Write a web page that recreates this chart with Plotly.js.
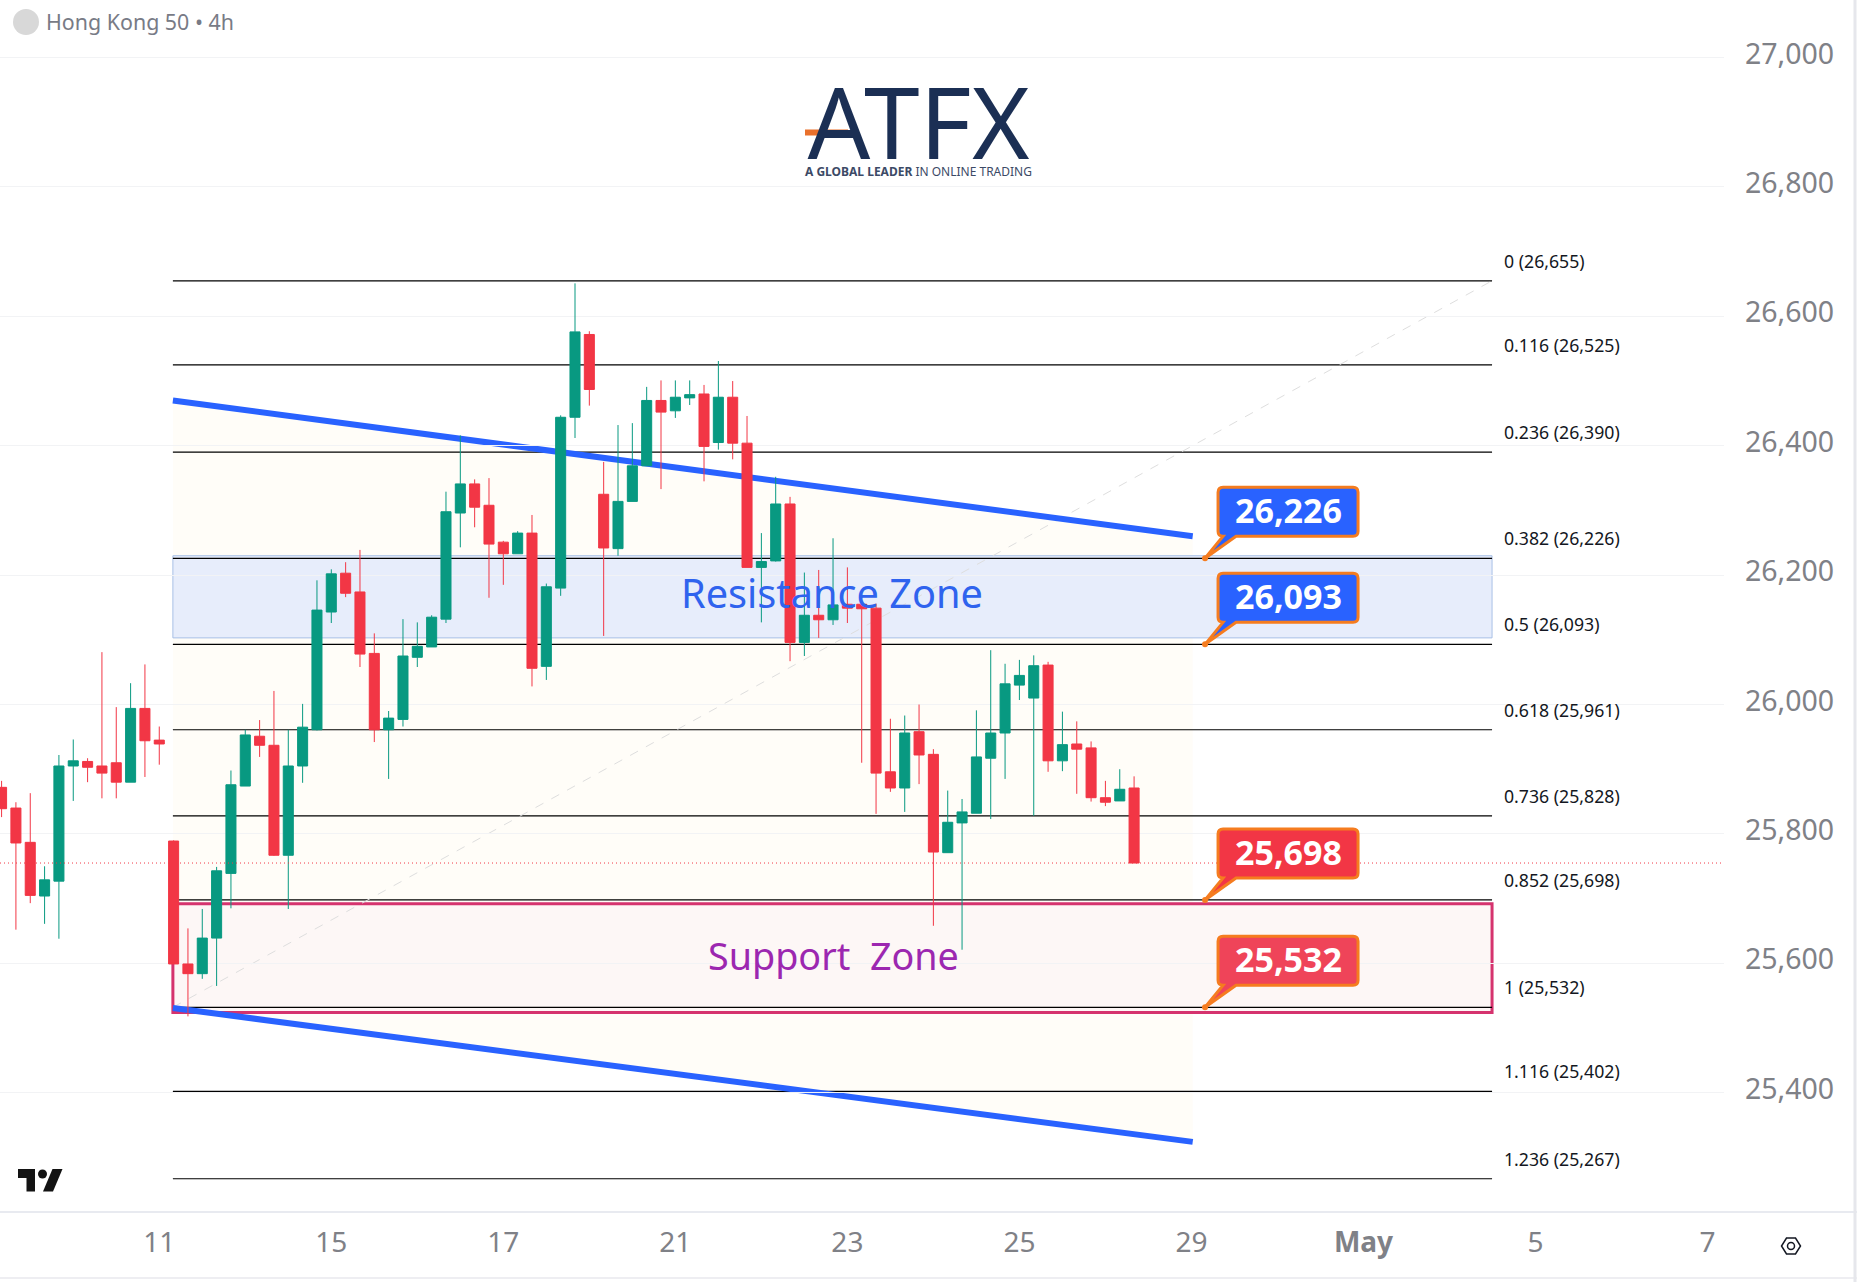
<!DOCTYPE html>
<html>
<head>
<meta charset="utf-8">
<script src="https://cdn.plot.ly/plotly-3.0.1.min.js"></script>
<style>html,body{margin:0;padding:0;background:#fff;}#chart{width:1857px;height:1282px;}</style>
</head>
<body>
<div id="chart"></div>
<script>
// ---------- chart values ----------
const firstBar = -12;
const opens  = [25872,25840,25787,25704,25727,25905,25912,25905,25910,25880,25994,25945,
  25789,25599,25584,25639,25739,25874,25951,25937,25767,25905,25961,26143,26203,26174,26079,25961,25977,26073,26089,26132,26296,26341,26308,26251,26233,26265,26059,
  26180,26444,26572,26325,26241,26314,26369,26470,26454,26474,26480,26405,26475,26404,26212,26222,26310,26096,26138,26131,26155,26155,26149,25896,25871,25958,25923,25771,25817,25832,25917,25956,26030,26010,26061,25913,25939,25933,25856,25851,25871];
const highs  = [25882,25849,25863,25750,25922,25946,25917,26081,25996,26033,26062,25966,
  25790,25654,25684,25749,25898,25961,25976,26021,25961,26001,26192,26209,26220,26239,26110,25990,26132,26127,26138,26329,26416,26348,26350,26253,26268,26293,26187,
  26447,26651,26577,26375,26432,26435,26491,26501,26501,26501,26494,26531,26500,26446,26265,26352,26321,26204,26208,26257,26212,26155,26156,25978,25983,26000,25931,25867,25854,25991,26084,26063,26069,26076,26066,25989,25974,25943,25882,25900,25889];
const lows   = [25826,25652,25693,25661,25638,25851,25880,25855,25855,25880,25888,25907,
  25599,25518,25576,25565,25685,25874,25919,25766,25684,25879,25960,26126,26166,26058,25942,25885,25966,26058,26089,26126,26243,26274,26165,26185,26233,26028,26038,
  26168,26412,26462,26106,26230,26314,26369,26333,26443,26463,26345,26394,26379,26212,26127,26221,26067,26075,26103,26123,26126,25910,25831,25865,25834,25877,25658,25771,25621,25832,25823,25885,26007,25828,25896,25897,25862,25850,25843,25851,25755];
const closes = [25839,25786,25705,25729,25905,25913,25903,25894,25880,25994,25944,25939,
  25599,25584,25639,25743,25876,25953,25937,25767,25905,25965,26146,26202,26172,26078,25961,25979,26075,26090,26135,26298,26341,26305,26248,26233,26265,26056,26182,
  26444,26576,26487,26242,26314,26369,26470,26452,26475,26479,26399,26475,26404,26212,26221,26310,26096,26138,26131,26154,26149,26148,25894,25871,25956,25922,25772,25818,25834,25919,25956,26032,26045,26060,25913,25938,25931,25856,25849,25869,25755];
const lastPrice = 25755;

const xTickBars   = [-1,11,23,35,47,59,71,83,95,107];
const xTickLabels = ['11','15','17','21','23','25','29','<b>May</b>','5','7'];

const fibRatios = ['0','0.116','0.236','0.382','0.5','0.618','0.736','0.852','1','1.116','1.236'];
const fibLevels = [26655,26525,26390,26226,26093,25961,25828,25698,25532,25402,25267];
const fibBars   = [-0.05,91.97];

const channelBars   = [-0.05,71.09];
const channelUpper  = [26470,26260];
const channelLower  = [25531,25324];

const resistanceZone = [26103,26230];
const supportZone    = [25524,25692];
const calloutBar     = 71.95;
const calloutLevels  = [26226,26093,25698,25532];
const calloutLabels  = ['26,226','26,093','25,698','25,532'];
const calloutFills   = ['#2962ff','#2962ff','#f23645','#ef4459'];

// ---------- layout helpers ----------
const W = 1857, H = 1282, plotW = 1724, plotH = 1212;
const PX = p => p / plotW;
const PY = p => 1 - p / plotH;
const grey = '#7f8187';
const fontFam = '"Noto Sans", sans-serif';

const shapes = [];
// parallel channel fill
shapes.push({type:'path', xref:'x', yref:'y', layer:'below', line:{width:0}, fillcolor:'#fffdf8',
  path:`M${channelBars[0]},${channelUpper[0]} L${channelBars[1]},${channelUpper[1]} L${channelBars[1]},${channelLower[1]} L${channelBars[0]},${channelLower[0]} Z`});
// zones
shapes.push({type:'rect', xref:'x', yref:'y', layer:'below', x0:fibBars[0], x1:fibBars[1], y0:resistanceZone[0], y1:resistanceZone[1],
  fillcolor:'#e7edfb', line:{color:'#a8c0e6', width:1}});
shapes.push({type:'rect', xref:'x', yref:'y', layer:'below', x0:fibBars[0], x1:fibBars[1], y0:supportZone[0], y1:supportZone[1],
  fillcolor:'#fdf7f6', line:{color:'#d5336e', width:3}});
// fib levels
fibLevels.forEach(v => shapes.push({type:'line', xref:'x', yref:'y', layer:'below', x0:fibBars[0], x1:fibBars[1], y0:v, y1:v, line:{color:'#000000', width:1.2}}));
// fib trend line
shapes.push({type:'line', xref:'x', yref:'y', layer:'below', x0:fibBars[0], x1:fibBars[1], y0:fibLevels[8], y1:fibLevels[0], line:{color:'#dedede', width:1, dash:'dash'}});
// channel borders
shapes.push({type:'line', xref:'x', yref:'y', layer:'below', x0:channelBars[0], x1:channelBars[1], y0:channelUpper[0], y1:channelUpper[1], line:{color:'#2962ff', width:6}});
shapes.push({type:'line', xref:'x', yref:'y', layer:'below', x0:channelBars[0], x1:channelBars[1], y0:channelLower[0], y1:channelLower[1], line:{color:'#2962ff', width:6}});
// last price
shapes.push({type:'line', xref:'paper', yref:'y', layer:'above', x0:0, x1:1, y0:lastPrice, y1:lastPrice, line:{color:'#f23645', width:1, dash:'1px,3px'}});
// callouts
const calloutPath = 'M18,71 L148,71 Q153,71 153,66 L153,27 Q153,22 148,22 L31,22 L0,0 L18,22 Q13,22 13,27 L13,66 Q13,71 18,71 Z';
calloutLevels.forEach((v,i) => {
  shapes.push({type:'path', layer:'above', xref:'x', yref:'y', xsizemode:'pixel', ysizemode:'pixel', xanchor:calloutBar, yanchor:v,
    path:calloutPath, fillcolor:calloutFills[i], line:{color:'#f57c1f', width:3}});
  shapes.push({type:'circle', layer:'above', xref:'x', yref:'y', xsizemode:'pixel', ysizemode:'pixel', xanchor:calloutBar, yanchor:v,
    x0:-3, x1:3, y0:-3, y1:3, fillcolor:'#f57c1f', line:{width:0}});
});
// frame lines (paper coords)
shapes.push({type:'line', xref:'paper', yref:'paper', x0:0, x1:W/plotW, y0:PY(1212), y1:PY(1212), line:{color:'#e0e3eb', width:1.5}});
shapes.push({type:'line', xref:'paper', yref:'paper', x0:0, x1:W/plotW, y0:PY(1278), y1:PY(1278), line:{color:'#e8e9ee', width:1.5}});
shapes.push({type:'line', xref:'paper', yref:'paper', x0:PX(1855), x1:PX(1855), y0:PY(0), y1:PY(1282), line:{color:'#e6e7ec', width:3}});
// symbol dot
shapes.push({type:'circle', xref:'paper', yref:'paper', xsizemode:'pixel', ysizemode:'pixel', xanchor:PX(26), yanchor:PY(22), x0:-13, x1:13, y0:-13, y1:13, fillcolor:'#d8d8d8', line:{width:0}});
// logo bar
shapes.push({type:'line', xref:'paper', yref:'paper', layer:'above', x0:PX(805), x1:PX(848), y0:PY(132.5), y1:PY(132.5), line:{color:'#e9702b', width:6}});
// TradingView mark
const tvA = {xref:'paper', yref:'paper', xsizemode:'pixel', ysizemode:'pixel', xanchor:PX(18), yanchor:PY(1169), line:{width:0}, fillcolor:'#131313', layer:'above'};
shapes.push(Object.assign({type:'path', path:'M0,0 L17,0 L17,-22.5 L8.5,-22.5 L8.5,-9 L0,-9 Z'}, tvA));
shapes.push(Object.assign({type:'circle', x0:20,x1:29,y0:-9.5,y1:-0.5}, tvA));
shapes.push(Object.assign({type:'path', path:'M34.5,0 L44.5,0 L35,-22.5 L25,-22.5 Z'}, tvA));
// settings icon
const gear = {xref:'paper', yref:'paper', xsizemode:'pixel', ysizemode:'pixel', xanchor:PX(1791), yanchor:PY(1246), line:{color:'#131722', width:1.5}, fillcolor:'rgba(0,0,0,0)'};
shapes.push(Object.assign({type:'path', path:'M-4.5,8 L4.5,8 L9.5,0 L4.5,-8 L-4.5,-8 L-9.5,0 Z'}, gear));
shapes.push(Object.assign({type:'circle', x0:-3.5,x1:3.5,y0:-3.5,y1:3.5}, gear));

const annotations = [];
fibLevels.forEach((v,i) => {
  const t = v.toLocaleString('en-US');
  annotations.push({x:92.65, y:v, xref:'x', yref:'y', xanchor:'left', yanchor:'middle', yshift:20, showarrow:false,
    text:`${fibRatios[i]} (${t})`, font:{family:fontFam, size:17.7, color:'#131722'}});
});
annotations.push({x:45.9, y:26172, xref:'x', yref:'y', xanchor:'center', yanchor:'middle', showarrow:false, text:'Resistance Zone', font:{family:fontFam, size:39.7, color:'#2f63ee'}});
annotations.push({x:46, y:25612, xref:'x', yref:'y', xanchor:'center', yanchor:'middle', showarrow:false, text:'Support  Zone', font:{family:fontFam, size:37.7, color:'#9c27b0'}});
calloutLevels.forEach((v,i) => {
  annotations.push({x:calloutBar, y:v, xref:'x', yref:'y', xanchor:'center', yanchor:'middle', xshift:83, yshift:48, showarrow:false, text:calloutLabels[i],
    font:{family:fontFam, size:34, color:'#ffffff', weight:700}});
});
annotations.push({x:PX(918), y:PY(121), xref:'paper', yref:'paper', xanchor:'center', yanchor:'middle', height:76, valign:'middle', showarrow:false, text:'ATFX', font:{family:fontFam, size:100, color:'#1b2f54'}});
annotations.push({x:PX(918), y:PY(171.5), xref:'paper', yref:'paper', xanchor:'center', yanchor:'middle', showarrow:false,
  text:'<b>A GLOBAL LEADER</b> IN ONLINE TRADING', font:{family:fontFam, size:12, color:'#3c4a66'}});

const bars = opens.map((_, i) => firstBar + i);

Plotly.newPlot('chart', [{
  type:'candlestick', x:bars, open:opens, high:highs, low:lows, close:closes,
  whiskerwidth:0, hoverinfo:'skip', showlegend:false,
  increasing:{line:{color:'#089981', width:1}, fillcolor:'#089981'},
  decreasing:{line:{color:'#f23645', width:1}, fillcolor:'#f23645'}
}], {
  width:W, height:H, autosize:false,
  paper_bgcolor:'#ffffff', plot_bgcolor:'#ffffff',
  margin:{l:0, r:W-plotW, t:0, b:H-plotH, pad:0},
  showlegend:false, boxgap:0, boxgroupgap:0.3,
  title:{text:'Hong Kong 50 • 4h', x:46/W, xanchor:'left', xref:'container', y:1-23/H, yanchor:'middle', yref:'container',
    font:{family:fontFam, size:21.4, color:'#787b86'}},
  xaxis:{type:'linear', range:[-12.11,108.15], rangeslider:{visible:false}, showgrid:false, zeroline:false, showline:false,
    tickmode:'array', tickvals:xTickBars, ticktext:xTickLabels, ticks:'', tickangle:0, ticklabelstandoff:11,
    tickfont:{family:fontFam, size:28, color:grey}, automargin:false},
  yaxis:{type:'linear', side:'right', range:[25215.6,27089], dtick:200, tick0:25400, tickformat:',d', showgrid:true, gridcolor:'#f2f3f5', gridwidth:1,
    zeroline:false, showline:false, ticks:'', tickfont:{family:fontFam, size:28.5, color:grey}, ticklabelstandoff:20, ticklabelshift:-4, automargin:false},
  shapes, annotations
}, {staticPlot:true, displayModeBar:false});
</script>
</body>
</html>
